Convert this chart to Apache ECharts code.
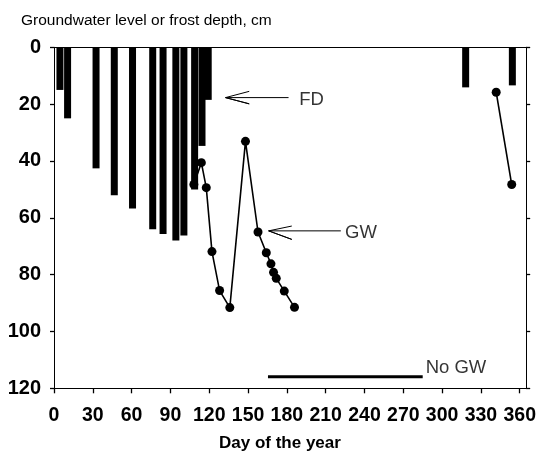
<!DOCTYPE html>
<html>
<head>
<meta charset="utf-8">
<script src="https://cdn.jsdelivr.net/npm/echarts@6/dist/echarts.min.js"></script>
<style>
html,body{margin:0;padding:0;background:#fff;}
#chart{width:539px;height:457px;}
</style>
</head>
<body>
<div id="chart"></div>
<script>
// Tick labels
const xTicks = [0, 30, 60, 90, 120, 150, 180, 210, 240, 270, 300, 330, 360];
const yTicks = [0, 20, 40, 60, 80, 100, 120];

// Frost depth (bars)
const fdDays  = [4.6, 10.5, 32.5, 46.6, 60.7, 76.3, 84.3, 94.2, 100.4, 108.7, 114.4, 119.2, 318.2, 354.3];
const fdDepth = [15, 25, 42.6, 52.1, 56.7, 64, 65.7, 68, 66.2, 50, 34.7, 18.5, 14.1, 13.4];

// Groundwater level (points + lines), spring/summer segment
const gwDays1  = [108.1, 113.9, 117.7, 122.1, 128.0, 135.9, 148.0, 157.7, 164.1, 167.7, 169.7, 171.8, 178.0, 185.9];
const gwDepth1 = [48.3, 40.6, 49.4, 71.9, 85.6, 91.6, 33.1, 65.0, 72.3, 76.2, 79.2, 81.3, 85.8, 91.5];
// Groundwater level, winter segment
const gwDays2  = [341.8, 353.8];
const gwDepth2 = [15.8, 48.3];

// "No GW" period
const noGwDays  = [165.4, 285];
const noGwDepth = [115.9, 115.9];

// Annotations
const fdArrowDays  = [150.9, 132.6, 150.9, 132.6, 181.3];
const fdArrowDepth = [15.5, 17.7, 19.9, 17.7, 17.7];
const gwArrowDays  = [183.8, 165.9, 183.8, 165.9, 221.7];
const gwArrowDepth = [62.9, 64.6, 67.6, 64.6, 64.6];
const labelTexts = ['FD', 'GW', 'No GW'];
const labelDays  = [189.5, 225, 287.3];
const labelDepth = [18.4, 65.2, 112.8];

const FONT = '"Liberation Sans", Arial, Helvetica, sans-serif';
const zip = (a, b) => a.map((v, i) => [v, b[i]]);

const chart = echarts.init(document.getElementById('chart'), null, {renderer: 'canvas'});

const option = {
  animation: false,
  backgroundColor: '#fff',
  title: [
    {
      text: 'Groundwater level or frost depth, cm',
      left: 21, top: 13, padding: 0,
      textStyle: {fontFamily: FONT, fontSize: 15.5, fontWeight: 'normal', color: '#000'}
    },
    {
      text: 'Day of the year',
      left: 219, top: 435, padding: 0,
      textStyle: {fontFamily: FONT, fontSize: 17, fontWeight: 'bold', color: '#000'}
    }
  ],
  grid: {left: 54, right: 10.7, top: 47.3, bottom: 68.7, containLabel: false},
  xAxis: [
    {
      type: 'value', position: 'bottom', min: 0, max: 365,
      splitLine: {show: false},
      axisLine: {show: true, onZero: false, lineStyle: {color: '#000', width: 1}},
      axisTick: {show: true, length: 5, inside: false, customValues: xTicks, lineStyle: {color: '#000', width: 1.3}},
      axisLabel: {show: true, customValues: xTicks, margin: 17, color: '#000',
                  fontFamily: FONT, fontSize: 19.5, fontWeight: 'bold'}
    },
    {
      type: 'value', position: 'top', min: 0, max: 365,
      splitLine: {show: false},
      axisLine: {show: true, onZero: false, lineStyle: {color: '#000', width: 1}},
      axisTick: {show: false}, axisLabel: {show: false}
    }
  ],
  yAxis: [
    {
      type: 'value', position: 'left', inverse: true, min: 0, max: 120, interval: 20,
      splitLine: {show: false},
      axisLine: {show: true, onZero: false, lineStyle: {color: '#000', width: 1}},
      axisTick: {show: true, length: 4, lineStyle: {color: '#000', width: 1.3}},
      axisLabel: {show: true, margin: 13, color: '#000', fontFamily: FONT, fontSize: 20, fontWeight: 'bold',
                  customValues: yTicks}
    },
    {
      type: 'value', position: 'right', inverse: true, min: 0, max: 120, interval: 20,
      splitLine: {show: false},
      axisLine: {show: true, onZero: false, lineStyle: {color: '#000', width: 1}},
      axisTick: {show: true, length: 4, lineStyle: {color: '#000', width: 1.3}},
      axisLabel: {show: false}
    }
  ],
  series: [
    {
      name: 'FD', type: 'bar', xAxisIndex: 0, yAxisIndex: 0,
      data: zip(fdDays, fdDepth), barWidth: 7, barGap: '-100%',
      itemStyle: {color: '#000'}, z: 2
    },
    {
      name: 'GW1', type: 'line', xAxisIndex: 0, yAxisIndex: 0,
      data: zip(gwDays1, gwDepth1), symbol: 'circle', symbolSize: 9,
      lineStyle: {color: '#000', width: 1.6}, itemStyle: {color: '#000'}, z: 4
    },
    {
      name: 'GW2', type: 'line', xAxisIndex: 0, yAxisIndex: 0,
      data: zip(gwDays2, gwDepth2), symbol: 'circle', symbolSize: 9,
      lineStyle: {color: '#000', width: 1.6}, itemStyle: {color: '#000'}, z: 4
    },
    {
      name: 'NoGW', type: 'line', xAxisIndex: 0, yAxisIndex: 0,
      data: zip(noGwDays, noGwDepth), symbol: 'none',
      lineStyle: {color: '#000', width: 3}, z: 3
    },
    {
      name: 'FDarrow', type: 'line', xAxisIndex: 0, yAxisIndex: 0,
      data: zip(fdArrowDays, fdArrowDepth), symbol: 'none',
      lineStyle: {color: '#000', width: 1}, z: 3
    },
    {
      name: 'GWarrow', type: 'line', xAxisIndex: 0, yAxisIndex: 0,
      data: zip(gwArrowDays, gwArrowDepth), symbol: 'none',
      lineStyle: {color: '#000', width: 1}, z: 3
    },
    {
      name: 'labels', type: 'scatter', xAxisIndex: 0, yAxisIndex: 0,
      symbolSize: 0,
      data: labelTexts.map((t, i) => ({name: t, value: [labelDays[i], labelDepth[i]]})),
      label: {show: true, position: [0, 0], align: 'left', verticalAlign: 'middle',
              formatter: p => p.name, color: '#000', fontFamily: FONT, fontSize: 18.5},
      z: 5
    }
  ]
};
chart.setOption(option);
</script>
</body>
</html>
